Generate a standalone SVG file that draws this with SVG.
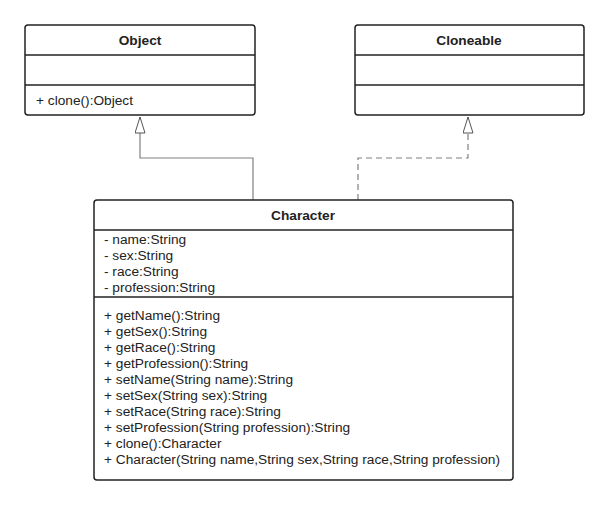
<svg xmlns="http://www.w3.org/2000/svg" width="609" height="505" viewBox="0 0 609 505">
<style>
.box{fill:#fff;stroke:#222;stroke-width:1.5}
.div{stroke:#222;stroke-width:1.5}
.t{font-family:"Liberation Sans",Arial,sans-serif;font-size:13.7px;fill:#222}
.b{font-weight:bold;text-anchor:middle}
.c{fill:none;stroke:#808080;stroke-width:1.2}
.d{stroke-dasharray:6 4}
</style>
<defs>
<marker id="tri" markerWidth="18" markerHeight="12" refX="16.5" refY="5.5" orient="auto" markerUnits="userSpaceOnUse">
<path d="M0.5,0.5 L16.5,5.5 L0.5,10.5 Z" fill="#fff" stroke="#555" stroke-width="1"/>
</marker>
</defs>
<g id="connectors">
<polyline class="c" points="253,200 253,158 140,158 140,117" marker-end="url(#tri)"/>
<polyline class="c d" points="358,200 358,158 468,158 468,117" marker-end="url(#tri)"/>
</g>
<g id="Object">
<rect class="box" x="25" y="25" width="230" height="90" rx="3"/>
<line class="div" x1="25" y1="55" x2="255" y2="55"/>
<line class="div" x1="25" y1="85" x2="255" y2="85"/>
<text class="t b" x="140" y="45">Object</text>
<text class="t" x="36" y="105">+ clone():Object</text>
</g>
<g id="Cloneable">
<rect class="box" x="355" y="25" width="229" height="90" rx="3"/>
<line class="div" x1="355" y1="55" x2="584" y2="55"/>
<line class="div" x1="355" y1="85" x2="584" y2="85"/>
<text class="t b" x="469" y="45">Cloneable</text>
</g>
<g id="Character">
<rect class="box" x="94" y="200" width="419" height="280" rx="3"/>
<line class="div" x1="94" y1="230" x2="513" y2="230"/>
<line class="div" x1="94" y1="297" x2="513" y2="297"/>
<text class="t b" x="303" y="220">Character</text>
<text class="t" x="104" y="244">- name:String</text>
<text class="t" x="104" y="260">- sex:String</text>
<text class="t" x="104" y="276">- race:String</text>
<text class="t" x="104" y="292">- profession:String</text>
<text class="t" x="104" y="320">+ getName():String</text>
<text class="t" x="104" y="336">+ getSex():String</text>
<text class="t" x="104" y="352">+ getRace():String</text>
<text class="t" x="104" y="368">+ getProfession():String</text>
<text class="t" x="104" y="384">+ setName(String name):String</text>
<text class="t" x="104" y="400">+ setSex(String sex):String</text>
<text class="t" x="104" y="416">+ setRace(String race):String</text>
<text class="t" x="104" y="432">+ setProfession(String profession):String</text>
<text class="t" x="104" y="448">+ clone():Character</text>
<text class="t" x="104" y="464">+ Character(String name,String sex,String race,String profession)</text>
</g>
</svg>
